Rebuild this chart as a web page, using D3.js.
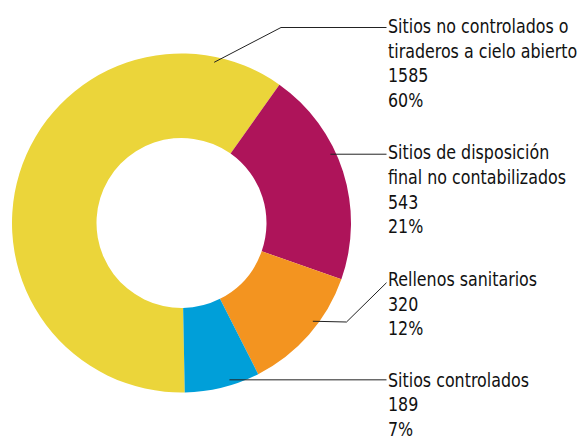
<!DOCTYPE html>
<html>
<head>
<meta charset="utf-8">
<script src="https://cdn.jsdelivr.net/npm/d3@7"></script>
<style>
  html, body { margin: 0; padding: 0; background: #fff; }
  svg { display: block; }
  .lbl { font-family: "Liberation Sans Narrow", "DejaVu Sans Condensed", "DejaVu Sans", sans-serif; font-size: 20px; fill: #111; }
</style>
</head>
<body>
<svg id="chart" width="580" height="438"></svg>
<script>
// Disposal sites by type
const categories = [
  ["Sitios no controlados o", "tiraderos a cielo abierto"],
  ["Sitios de disposición", "final no contabilizados"],
  ["Rellenos sanitarios"],
  ["Sitios controlados"]
];
const values = [1585, 543, 320, 189];
const percentLabels = ["60%", "21%", "12%", "7%"];
const colors = ["#ebd53a", "#ae145a", "#f39420", "#009fd9"];

// Layout of the ring and the callouts
const cx = 181.5, cy = 223;
const outerR = 169.5, innerR = 85;
const labelX = 388;
const lineH = 24.6;
const refLabelWidth = 141; // drawn width of "Sitios controlados" in the condensed face
// callout: angle (deg, clockwise from top) where the leader starts, elbow, first baseline
const callouts = [
  { angle: 11.5, elbow: [281, 27.5], endY: 27.5, baseline: 33.3 },
  { angle: 65.2, elbow: null, endY: null, baseline: 159.5 },
  { angle: 126.8, elbow: [346.5, 322], endY: 282.7, baseline: 286 },
  { angle: 163, elbow: null, endY: null, baseline: 386.7 }
];
const leaderR = 164;

const svg = d3.select("#chart");
const g = svg.append("g").attr("transform", `translate(${cx},${cy})`);

const pie = d3.pie()
  .sort(null)
  .startAngle(Math.PI - 1.1 * Math.PI / 180)
  .endAngle(3 * Math.PI - 1.1 * Math.PI / 180);
const arc = d3.arc().innerRadius(innerR).outerRadius(outerR);

g.selectAll("path.slice")
  .data(pie(values))
  .join("path")
  .attr("class", "slice")
  .attr("d", arc)
  .attr("fill", (d, i) => colors[i]);

// Leader lines
const polar = (deg, r) => {
  const a = deg * Math.PI / 180;
  return [cx + r * Math.sin(a), cy - r * Math.cos(a)];
};
const lineGen = d3.line();
callouts.forEach((c) => {
  const start = polar(c.angle, leaderR);
  const pts = [start];
  if (c.elbow) pts.push(c.elbow);
  pts.push([labelX - 1.5, c.endY == null ? start[1] : c.endY]);
  svg.append("path")
    .attr("d", lineGen(pts))
    .attr("fill", "none")
    .attr("stroke", "#222")
    .attr("stroke-width", 1);
});

// Labels
const texts = callouts.map((c, i) => {
  const lines = [...categories[i], String(values[i]), percentLabels[i]];
  const t = svg.append("text").attr("class", "lbl");
  lines.forEach((s, j) => {
    t.append("tspan")
      .attr("x", labelX)
      .attr("y", c.baseline + j * lineH)
      .text(s);
  });
  return t;
});

// Condense the label face horizontally to the narrow proportions
const probe = texts[3].select("tspan").node().getComputedTextLength();
const sx = probe > 0 ? refLabelWidth / probe : 1;
texts.forEach(t => t.attr("transform", `translate(${labelX},0) scale(${sx},1) translate(${-labelX},0)`));
</script>
</body>
</html>
